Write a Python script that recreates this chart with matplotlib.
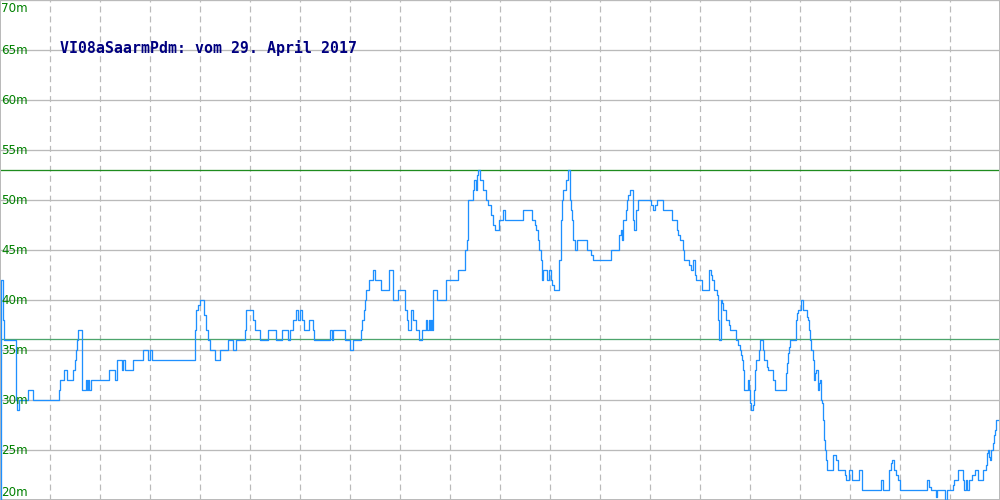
import matplotlib
matplotlib.use("Agg")
import matplotlib.pyplot as plt
import matplotlib.transforms as mtransforms

# ---- data ----
title = "VI08aSaarmPdm: vom 29. April 2017"
y_ticks = [20, 25, 30, 35, 40, 45, 50, 55, 60, 65, 70]
y_labels = ["20m", "25m", "30m", "35m", "40m", "45m", "50m", "55m", "60m", "65m", "70m"]
upper_ref = 53.0
lower_ref = 36.1

sample = [0, 1, 3, 4, 16, 17, 19, 28, 33, 59, 60, 64, 67, 73, 75, 76, 77, 78, 82, 86, 87, 88, 89, 91,
          109, 115, 117, 122, 123, 125, 133, 143, 148, 150, 152, 195, 196, 198, 200, 204, 206, 208,
          210, 215, 220, 228, 233, 236, 245, 246, 253, 255, 260, 268, 276, 282, 288, 290, 293, 296,
          298, 300, 302, 304, 309, 313, 314, 330, 332, 333, 345, 350, 353, 361, 362, 364, 365, 366,
          369, 373, 375, 381, 389, 393, 398, 405, 407, 408, 411, 413, 416, 419, 422, 426, 427, 429,
          430, 431, 432, 433, 437, 446, 458, 465, 467, 468, 473, 474, 476, 477, 478, 480, 483, 486,
          488, 491, 493, 495, 499, 503, 505, 523, 532, 535, 536, 538, 539, 541, 542, 543, 547, 549,
          551, 552, 554, 559, 561, 562, 563, 566, 568, 570, 571, 572, 573, 575, 577, 587, 591, 593,
          611, 619, 621, 622, 623, 626, 627, 628, 630, 633, 634, 636, 638, 651, 653, 655, 657, 663,
          672, 677, 678, 680, 683, 684, 689, 691, 693, 695, 696, 702, 709, 711, 712, 714, 717, 718,
          719, 721, 722, 723, 726, 729, 730, 736, 738, 740, 741, 742, 743, 744, 748, 749, 750, 751,
          753, 754, 755, 756, 759, 760, 763, 764, 767, 768, 773, 775, 786, 787, 788, 789, 790, 796,
          797, 798, 801, 803, 807, 808, 809, 810, 811, 813, 814, 815, 816, 818, 819, 820, 821, 822,
          823, 824, 825, 826, 827, 833, 836, 838, 845, 846, 849, 852, 859, 862, 881, 883, 889, 891,
          892, 894, 896, 898, 900, 927, 929, 931, 936, 937, 945, 947, 953, 954, 958, 963, 964, 966,
          967, 969, 972, 975, 978, 983, 986, 987, 988, 989, 990, 991, 993, 994, 995, 996, 998]
level = [20, 42, 38, 36, 30, 29, 30, 31, 30, 31, 32, 33, 32, 33, 34, 35, 36, 37, 31, 32, 31, 32, 31, 32,
         33, 32, 34, 33, 34, 33, 34, 35, 34, 35, 34, 37, 39, 39.5, 40, 38.5, 37, 36,
         35, 34, 35, 36, 35, 36, 37, 39, 38, 37, 36, 37, 36, 37, 36, 37, 38, 39,
         38, 39, 38, 37, 38, 37, 36, 37, 36, 37, 36, 35, 36, 37, 38, 39, 40, 41,
         42, 43, 42, 41, 43, 40, 41, 39, 38, 37, 39, 38, 37, 36, 37, 38, 37, 38,
         37, 38, 37, 41, 40, 42, 43, 45, 46, 50, 51, 52, 51, 52.5, 53, 52, 51, 50,
         49.5, 48.5, 47.5, 47, 48, 49, 48, 49, 48, 47.5, 47, 46, 45, 44, 42, 43, 42, 43,
         42, 41.5, 41, 44, 48, 50, 51, 52, 53, 50, 49, 48, 46, 45, 46, 45, 44.5, 44,
         45, 46.5, 47, 46, 48, 49, 50, 50.5, 51, 48, 47, 49, 50, 49.5, 49, 49.5, 50, 49,
         48, 47, 46.5, 46, 45, 44, 43.5, 43, 44, 42.5, 42, 41, 43, 42.5, 42, 41, 40.5, 38,
         36, 40, 39.7, 39, 38, 37.5, 37, 36, 35.5, 35, 34.5, 34, 33, 31, 32, 31, 29.7, 29,
         29.5, 31, 33, 34, 35, 36, 35, 34, 33.3, 33, 32, 31, 32.7, 33.7, 34.7, 35.3, 36, 38,
         38.7, 39, 40, 39, 38.3, 38, 37, 36, 35, 34, 32, 32.7, 33, 31, 31.7, 32, 30, 29.7,
         28, 26, 25, 24, 23, 24.5, 24, 23, 22.5, 22, 23, 22, 23, 21, 22, 21, 23, 23.7,
         24, 23, 22.5, 22, 21, 22, 21.3, 21, 20.3, 21, 20, 21, 21.5, 22, 23, 22, 21, 22,
         21, 22, 22.5, 23, 22, 23, 23.5, 24.7, 25, 24.3, 24, 25, 25.7, 26.5, 27, 28, 28]

# ---- figure ----
px = 0.72  # one pixel in points at dpi 100
fig = plt.figure(figsize=(10, 5), dpi=100)
ax = fig.add_axes([0, 0, 1, 1])
ax.set_xlim(0, 1000)
ax.set_ylim(20, 70)
ax.set_facecolor("white")

grid_c = "#bababa"
for t in y_ticks:
    ax.axhline(t, color=grid_c, lw=1.3 * px, zorder=1)
for xv in range(50, 1000, 50):
    ax.axvline(xv, color=grid_c, lw=1.2 * px, dashes=(5, 3.3), zorder=1)

ax.axhline(upper_ref, color="#1f8c1f", lw=1.3 * px, zorder=2)
ax.axhline(lower_ref, color="#4da56c", lw=1.3 * px, zorder=2)

ax.plot(sample, level, drawstyle="steps-post", color="#1e90ff", lw=1.3 * px, zorder=3)

for s in ax.spines.values():
    s.set_color(grid_c)
    s.set_linewidth(2 * px)
ax.set_xticks([])
ax.set_yticks([])

trans = mtransforms.blended_transform_factory(ax.transAxes, ax.transData)
for t, lab in zip(y_ticks, y_labels):
    if t == 70:
        ax.text(0.001, t - 0.25, lab, transform=trans, va="top", ha="left",
                color="#008000", fontsize=8.6, family="DejaVu Sans", zorder=4)
    elif t == 20:
        ax.text(0.001, t + 0.15, lab, transform=trans, va="bottom", ha="left",
                color="#008000", fontsize=8.6, family="DejaVu Sans", zorder=4)
    else:
        ax.text(0.001, t, lab, transform=trans, va="center", ha="left",
                color="#008000", fontsize=8.6, family="DejaVu Sans", zorder=4)

ax.text(0.06, 1 - 48 / 500, title, transform=ax.transAxes, va="center", ha="left",
        color="#000080", fontsize=10.7, family="DejaVu Sans Mono", fontweight="bold", zorder=4)

fig.savefig("out.png", dpi=100)
